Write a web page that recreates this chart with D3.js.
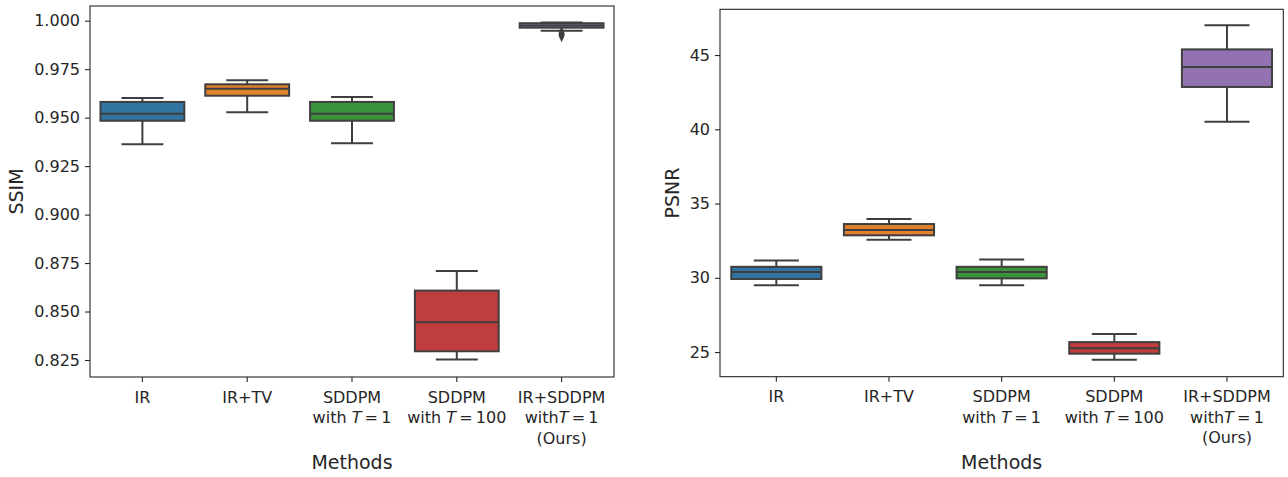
<!DOCTYPE html>
<html><head><meta charset="utf-8">
<script src="https://cdn.jsdelivr.net/npm/d3@7"></script>
<style>
body{margin:0;background:#fff}
text{font-family:"DejaVu Sans",sans-serif;fill:#262626}
</style>
</head><body>
<svg id="c" width="1288" height="477"></svg>
<script>
// ---------- data ----------
const categories = ["IR", "IR+TV", "SDDPM T=1", "SDDPM T=100", "IR+SDDPM T=1 (Ours)"];
// tick labels: lines of [text, italic] segments
const tickLabels = [
  [[["IR", false]]],
  [[["IR+TV", false]]],
  [[["SDDPM", false]], [["with ", false], ["T", true], ["\u2009=\u20091", false]]],
  [[["SDDPM", false]], [["with ", false], ["T", true], ["\u2009=\u2009100", false]]],
  [[["IR+SDDPM", false]], [["with", false], ["T", true], ["\u2009=\u20091", false]], [["(Ours)", false]]]
];
const colors = ["#3274a1", "#e1812c", "#3a923a", "#c03d3e", "#9372b2"];

const ssimLow  = [0.9363, 0.9528, 0.9368, 0.8252, 0.9948];
const ssimQ1   = [0.9484, 0.9613, 0.9484, 0.8295, 0.9964];
const ssimMed  = [0.9520, 0.9649, 0.9520, 0.8445, 0.9975];
const ssimQ3   = [0.9581, 0.9672, 0.9581, 0.8608, 0.9987];
const ssimHigh = [0.9601, 0.9693, 0.9607, 0.8709, 0.9991];
const ssimOutliers = [[], [], [], [], [0.9936, 0.9929, 0.9922]];
const ssimTicks = [0.825, 0.850, 0.875, 0.900, 0.925, 0.950, 0.975, 1.000];

const psnrLow  = [29.49, 32.56, 29.49, 24.48, 40.51];
const psnrQ1   = [29.92, 32.86, 29.96, 24.89, 42.85];
const psnrMed  = [30.39, 33.22, 30.39, 25.25, 44.19];
const psnrQ3   = [30.74, 33.62, 30.74, 25.67, 45.38];
const psnrHigh = [31.17, 33.96, 31.24, 26.21, 47.00];
const psnrOutliers = [[], [], [], [], []];
const psnrTicks = [25, 30, 35, 40, 45];

// ---------- drawing ----------
const svg = d3.select("#c");
const lineCol = "#3f3f3f";

function panel(cfg) {
  const g = svg.append("g");
  const x = d3.scaleBand().domain(categories).range([cfg.left, cfg.right]).padding(0);
  const y = d3.scaleLinear().domain(cfg.yDomain).range([cfg.bottom, cfg.top]);
  const bw = x.bandwidth() * 0.8;
  const cw = bw / 2;

  // y axis
  const ya = g.append("g").attr("transform", `translate(${cfg.left},0)`)
    .call(d3.axisLeft(y).tickValues(cfg.ticks).tickFormat(cfg.fmt).tickSize(5).tickPadding(5));
  ya.select(".domain").remove();
  ya.selectAll(".tick line").attr("stroke", "#262626").attr("stroke-width", 1.1);
  ya.selectAll(".tick text").style("font-size", "16px").style("fill", "#262626");

  // x axis
  const xa = g.append("g").attr("transform", `translate(0,${cfg.bottom})`)
    .call(d3.axisBottom(x).tickSize(5).tickFormat(""));
  xa.select(".domain").remove();
  xa.selectAll(".tick line").attr("stroke", "#262626").attr("stroke-width", 1.1);
  xa.selectAll(".tick text").remove();
  categories.forEach((c, i) => {
    const t = g.append("text").attr("text-anchor", "middle").style("font-size", "16px");
    tickLabels[i].forEach((line, li) => {
      line.forEach((seg, si) => {
        const ts = t.append("tspan").text(seg[0]).style("white-space", "pre");
        if (si === 0) ts.attr("x", x(c) + x.bandwidth() / 2).attr("y", cfg.bottom + 25.5 + li * 20.5);
        if (seg[1]) ts.style("font-style", "italic");
      });
    });
  });

  // boxes
  categories.forEach((c, i) => {
    const cx = x(c) + x.bandwidth() / 2;
    const bg = g.append("g");
    bg.append("line").attr("x1", cx).attr("x2", cx).attr("y1", y(cfg.q3[i])).attr("y2", y(cfg.high[i]));
    bg.append("line").attr("x1", cx).attr("x2", cx).attr("y1", y(cfg.q1[i])).attr("y2", y(cfg.low[i]));
    bg.append("line").attr("x1", cx - cw / 2).attr("x2", cx + cw / 2).attr("y1", y(cfg.high[i])).attr("y2", y(cfg.high[i]));
    bg.append("line").attr("x1", cx - cw / 2).attr("x2", cx + cw / 2).attr("y1", y(cfg.low[i])).attr("y2", y(cfg.low[i]));
    bg.append("rect").attr("x", cx - bw / 2).attr("width", bw)
      .attr("y", y(cfg.q3[i])).attr("height", y(cfg.q1[i]) - y(cfg.q3[i]))
      .attr("fill", colors[i]);
    bg.append("line").attr("x1", cx - bw / 2).attr("x2", cx + bw / 2).attr("y1", y(cfg.med[i])).attr("y2", y(cfg.med[i]));
    bg.selectAll("line,rect").attr("stroke", lineCol).attr("stroke-width", 2);
    cfg.out[i].forEach(v => {
      bg.append("path").attr("d", d3.symbol(d3.symbolDiamond, 48)())
        .attr("transform", `translate(${cx},${y(v)}) scale(0.8,1)`)
        .attr("fill", lineCol);
    });
  });

  // frame
  g.append("rect").attr("x", cfg.left).attr("y", cfg.top)
    .attr("width", cfg.right - cfg.left).attr("height", cfg.bottom - cfg.top)
    .attr("fill", "none").attr("stroke", "#262626").attr("stroke-width", 1.1);

  // axis titles
  g.append("text").attr("transform", `translate(${cfg.ylabX},${(cfg.top + cfg.bottom) / 2}) rotate(-90)`)
    .attr("text-anchor", "middle").style("font-size", "19px").text(cfg.ylabel);
  g.append("text").attr("x", (cfg.left + cfg.right) / 2).attr("y", 469)
    .attr("text-anchor", "middle").style("font-size", "19px").text("Methods");
}

panel({
  left: 90, right: 614, top: 6, bottom: 377,
  yDomain: [0.81623, 1.00758], ticks: ssimTicks, fmt: d3.format(".3f"),
  low: ssimLow, q1: ssimQ1, med: ssimMed, q3: ssimQ3, high: ssimHigh, out: ssimOutliers,
  ylabel: "SSIM", ylabX: 23
});
panel({
  left: 720, right: 1283.3, top: 9.3, bottom: 376.7,
  yDomain: [23.34, 48.08], ticks: psnrTicks, fmt: d3.format("d"),
  low: psnrLow, q1: psnrQ1, med: psnrMed, q3: psnrQ3, high: psnrHigh, out: psnrOutliers,
  ylabel: "PSNR", ylabX: 679
});
</script>
</body></html>
